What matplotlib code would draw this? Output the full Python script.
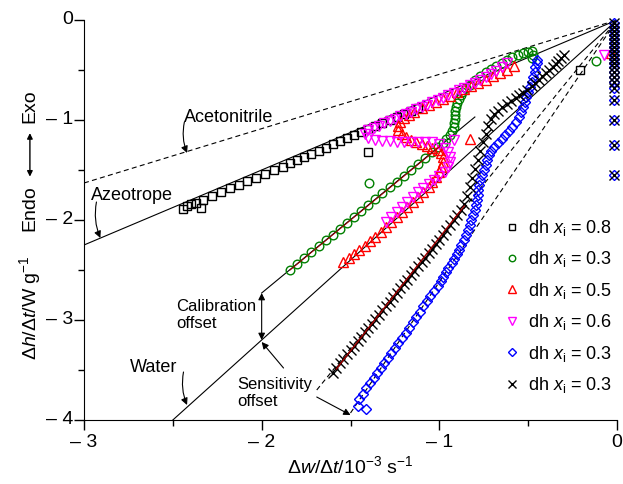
import matplotlib.pyplot as plt
import matplotlib.transforms as mtransforms

plt.rcParams['font.family'] = ['Liberation Sans', 'DejaVu Sans']
plt.rcParams['mathtext.fontset'] = 'custom'
plt.rcParams['mathtext.rm'] = 'Liberation Sans'
plt.rcParams['mathtext.it'] = 'Liberation Sans:italic'

# ---- data (dw/dt in 1e-3 s^-1, dh/dt in W/g) ----
sq_w = [-2.44, -2.42, -2.40, -2.37, -2.34, -2.33, -2.28, -2.23, -2.18, -2.13, -2.08, -2.03,
        -1.98, -1.93, -1.88, -1.84, -1.80, -1.76, -1.72, -1.68, -1.64, -1.60, -1.56, -1.52,
        -1.48, -1.44, -1.40, -1.36, -1.32, -1.28, -1.24, -1.20, -1.16, -1.12, -1.40, -0.21]
sq_h = [-1.89, -1.86, -1.84, -1.83, -1.88, -1.80, -1.76, -1.72, -1.68, -1.65, -1.61, -1.58,
        -1.54, -1.50, -1.47, -1.43, -1.40, -1.37, -1.34, -1.31, -1.28, -1.24, -1.21, -1.18,
        -1.15, -1.12, -1.09, -1.06, -1.03, -1.00, -0.97, -0.94, -0.91, -0.88, -1.32, -0.50]

ci_w = [-1.84, -1.80, -1.76, -1.72, -1.68, -1.64, -1.60, -1.56, -1.52, -1.48, -1.44, -1.40,
        -1.36, -1.32, -1.28, -1.24, -1.20, -1.16, -1.12, -1.08, -1.04, -1.01, -0.98, -0.96,
        -0.94, -0.93, -0.92, -0.915, -0.91, -0.91, -0.91, -0.905, -0.90, -0.89, -0.88, -0.87,
        -0.85, -0.83, -0.80, -0.77, -0.74, -0.71, -0.68, -0.65, -0.62, -0.59, -0.56, -0.53,
        -0.50, -0.48, -0.47, -0.48, -1.395, -0.12]
ci_h = [-2.50, -2.44, -2.38, -2.32, -2.26, -2.20, -2.15, -2.09, -2.03, -1.97, -1.91, -1.85,
        -1.79, -1.73, -1.67, -1.62, -1.56, -1.50, -1.44, -1.38, -1.32, -1.27, -1.23, -1.19,
        -1.15, -1.11, -1.07, -1.03, -0.99, -0.95, -0.91, -0.87, -0.83, -0.79, -0.75, -0.72,
        -0.68, -0.65, -0.60, -0.56, -0.52, -0.49, -0.46, -0.43, -0.40, -0.37, -0.35, -0.33,
        -0.32, -0.31, -0.35, -0.38, -1.63, -0.41]

tu_w = [-1.54, -1.51, -1.48, -1.45, -1.42, -1.39, -1.36, -1.33, -1.30, -1.27, -1.24, -1.21,
        -1.18, -1.15, -1.12, -1.09, -1.06, -1.04, -1.02, -1.00, -0.99, -0.98, -0.98, -0.99,
        -1.01, -1.04, -1.07, -1.10, -1.13, -1.16, -1.19, -1.21, -1.23, -1.23, -1.22, -1.20,
        -1.17, -1.14, -1.10, -1.06, -1.02, -0.98, -0.94, -0.90, -0.86, -0.82, -0.78, -0.74,
        -0.70, -0.66, -0.62, -0.58, -0.83, -0.035]
tu_h = [-2.42, -2.38, -2.34, -2.30, -2.26, -2.21, -2.17, -2.12, -2.07, -2.02, -1.97, -1.92,
        -1.87, -1.82, -1.77, -1.72, -1.67, -1.62, -1.57, -1.52, -1.47, -1.42, -1.37, -1.33,
        -1.30, -1.28, -1.26, -1.24, -1.22, -1.20, -1.17, -1.14, -1.10, -1.06, -1.02, -0.98,
        -0.95, -0.92, -0.88, -0.85, -0.82, -0.79, -0.76, -0.72, -0.69, -0.66, -0.63, -0.60,
        -0.56, -0.53, -0.50, -0.46, -1.19, -0.33]

td_w = [-1.30, -1.27, -1.24, -1.21, -1.18, -1.15, -1.12, -1.09, -1.06, -1.03, -1.00, -0.97,
        -0.95, -0.94, -0.94, -0.95, -0.97, -1.00, -1.04, -1.08, -1.12, -1.16, -1.20, -1.24,
        -1.28, -1.32, -1.36, -1.40, -1.42, -1.40, -1.37, -1.34, -1.31, -1.28, -1.25, -1.22,
        -1.19, -1.16, -1.13, -1.10, -1.07, -1.04, -1.01, -0.98, -0.95, -0.92, -0.89, -0.86,
        -0.83, -0.80, -0.77, -0.74, -0.71, -0.68, -0.65, -0.62, -0.92, -0.075]
td_h = [-2.02, -1.97, -1.92, -1.87, -1.82, -1.77, -1.72, -1.68, -1.64, -1.60, -1.56, -1.52,
        -1.47, -1.42, -1.37, -1.32, -1.28, -1.24, -1.22, -1.22, -1.22, -1.22, -1.22, -1.22,
        -1.21, -1.21, -1.20, -1.18, -1.14, -1.10, -1.08, -1.06, -1.03, -1.01, -0.99, -0.96,
        -0.94, -0.92, -0.89, -0.87, -0.85, -0.82, -0.80, -0.78, -0.75, -0.73, -0.70, -0.68,
        -0.65, -0.63, -0.60, -0.57, -0.54, -0.51, -0.47, -0.43, -1.20, -0.35]

zero_h = [-0.03, -0.07, -0.11, -0.15, -0.19, -0.23, -0.27, -0.31, -0.35, -0.39, -0.43,
          -0.47, -0.52, -0.57, -0.62, -0.68, -0.80, -1.00, -1.25, -1.55]

di_w = [-1.46, -1.41, -1.45, -1.43, -1.41, -1.39, -1.37, -1.35, -1.33, -1.31, -1.29, -1.27,
        -1.25, -1.23, -1.21, -1.19, -1.17, -1.15, -1.13, -1.11, -1.09, -1.07, -1.05, -1.03,
        -1.01, -0.99, -0.98, -0.96, -0.95, -0.93, -0.92, -0.90, -0.89, -0.88, -0.86, -0.85,
        -0.84, -0.83, -0.82, -0.81, -0.80, -0.795, -0.79, -0.785, -0.78, -0.775, -0.77, -0.76,
        -0.75, -0.74, -0.73, -0.72, -0.71, -0.69, -0.67, -0.65, -0.63, -0.61, -0.59, -0.57,
        -0.55, -0.54, -0.53, -0.52, -0.51, -0.50, -0.49, -0.48, -0.47, -0.46, -0.46, -0.45,
        -0.45] + [-0.015] * len(zero_h)
di_h = [-3.86, -3.89, -3.79, -3.74, -3.68, -3.63, -3.58, -3.53, -3.48, -3.43, -3.38, -3.33,
        -3.28, -3.23, -3.18, -3.13, -3.08, -3.02, -2.97, -2.92, -2.86, -2.81, -2.76, -2.71,
        -2.66, -2.61, -2.57, -2.52, -2.48, -2.43, -2.39, -2.34, -2.30, -2.25, -2.20, -2.15,
        -2.10, -2.05, -2.00, -1.95, -1.90, -1.85, -1.80, -1.75, -1.70, -1.65, -1.60, -1.55,
        -1.50, -1.45, -1.40, -1.35, -1.31, -1.27, -1.23, -1.19, -1.15, -1.11, -1.07, -1.02,
        -0.97, -0.92, -0.87, -0.82, -0.77, -0.72, -0.67, -0.62, -0.57, -0.52, -0.47, -0.43,
        -0.40] + zero_h

cr_w = [-1.60, -1.58, -1.56, -1.54, -1.52, -1.50, -1.48, -1.46, -1.44, -1.42, -1.40, -1.38,
        -1.36, -1.34, -1.32, -1.30, -1.28, -1.26, -1.24, -1.22, -1.20, -1.18, -1.16, -1.14,
        -1.12, -1.10, -1.08, -1.06, -1.04, -1.02, -1.00, -0.98, -0.96, -0.94, -0.92, -0.90,
        -0.88, -0.86, -0.845, -0.83, -0.815, -0.80, -0.785, -0.77, -0.755, -0.74, -0.725,
        -0.71, -0.69, -0.67, -0.645, -0.62, -0.595, -0.57, -0.55, -0.53, -0.505, -0.48, -0.46,
        -0.44, -0.42, -0.40, -0.38, -0.36, -0.345, -0.33, -0.315, -0.30] + [-0.015] * len(zero_h)
cr_h = [-3.53, -3.48, -3.43, -3.39, -3.34, -3.30, -3.26, -3.21, -3.17, -3.12, -3.08, -3.04,
        -2.99, -2.95, -2.90, -2.86, -2.82, -2.77, -2.73, -2.68, -2.64, -2.60, -2.55, -2.51,
        -2.46, -2.42, -2.38, -2.33, -2.29, -2.24, -2.20, -2.15, -2.10, -2.05, -2.00, -1.95,
        -1.90, -1.84, -1.76, -1.67, -1.58, -1.49, -1.40, -1.31, -1.22, -1.14, -1.06, -0.99,
        -0.94, -0.91, -0.87, -0.84, -0.81, -0.78, -0.75, -0.73, -0.70, -0.66, -0.63, -0.60,
        -0.56, -0.53, -0.50, -0.47, -0.44, -0.41, -0.38, -0.35] + zero_h

legend_labels = ['0.8', '0.3', '0.5', '0.6', '0.3', '0.3']
xticks = [-3, -2, -1, 0]
yticks = [-4, -3, -2, -1, 0]

# reference lines through the origin and fits
acet_w, acet_h = [-3.0, 0.0], [-1.63, 0.0]
azeo_w, azeo_h = [-3.0, 0.0], [-2.25, 0.0]
water_w, water_h = [-2.5, 0.0], [-4.0, 0.0]
calib_w, calib_h = [-2.0, -0.80], [-2.73, -0.97]
sens1_w, sens1_h = [-1.69, 0.0], [-3.70, 0.0]
sens2_w, sens2_h = [-1.50, 0.0], [-3.93, 0.0]
fit_w, fit_h = [-1.58, -0.86], [-3.49, -1.86]
gfit_w, gfit_h = [-1.84, -1.00], [-2.50, -1.27]

fig = plt.figure(figsize=(6.23, 4.84), dpi=100)
ax = fig.add_axes([84 / 623, 64 / 484, 533 / 623, 400 / 484])

lw = 0.8
dash = (0, (4.5, 3))
ax.plot(acet_w, acet_h, color='k', lw=lw, ls=dash)
ax.plot(sens1_w, sens1_h, color='k', lw=lw, ls=dash)
ax.plot(sens2_w, sens2_h, color='k', lw=lw, ls=dash)
ax.plot(azeo_w, azeo_h, color='k', lw=lw)
ax.plot(water_w, water_h, color='k', lw=lw)
ax.plot(calib_w, calib_h, color='k', lw=lw)

mk = dict(ls='none', mfc='none', mew=1.0, clip_on=False)
h1, = ax.plot(sq_w, sq_h, marker='s', ms=5.2, color='k', **mk)
h2, = ax.plot(ci_w, ci_h, marker='o', ms=6.2, color='#008000', **mk)
h3, = ax.plot(tu_w, tu_h, marker='^', ms=7, color='#ff0000', **mk)
h4, = ax.plot(td_w, td_h, marker='v', ms=7, color='#ff00ff', **mk)
h5, = ax.plot(di_w, di_h, marker='D', ms=5.5, color='#0000ff', **mk)
h6, = ax.plot(cr_w, cr_h, marker='x', ms=7.5, color='k', **mk)
ax.plot(fit_w, fit_h, color='#a00000', lw=1.0)
ax.plot(gfit_w, gfit_h, color='#a00000', lw=0.7)

ax.set_xlim(-3, 0)
ax.set_ylim(-4, 0)
ax.set_xticks(xticks)
ax.set_xticks([-2.5, -1.5, -0.5], minor=True)
ax.set_yticks(yticks)
ax.set_yticks([-3.5, -2.5, -1.5, -0.5], minor=True)
ax.tick_params(which='major', length=7, width=1, direction='out',
               labelbottom=False, labelleft=False)
ax.tick_params(which='minor', length=4, width=1, direction='out')
ax.spines['top'].set_visible(False)
ax.spines['right'].set_visible(False)

# tick labels written as plain texts ("- 3" style with a gap after the sign)
xoff = mtransforms.offset_copy(ax.get_xaxis_transform(), fig=fig, x=0, y=-10.4, units='points')
for v in xticks:
    s = '0' if v == 0 else '\u2013 %d' % abs(v)
    ax.text(v, 0, s, transform=xoff, ha='center', va='top', fontsize=14)
yoff = mtransforms.offset_copy(ax.get_yaxis_transform(), fig=fig, x=-8, y=0, units='points')
for v in yticks:
    s = '0' if v == 0 else '\u2013 %d' % abs(v)
    ax.text(0, v, s, transform=yoff, ha='right', va='center', fontsize=14)

fig.text(350 / 623, 1 - 466 / 484, r'$\Delta w/\Delta t$/10$^{-3}$ s$^{-1}$', fontsize=14,
         ha='center', va='center')
fig.text(0.048, 0.365, r'$\Delta h/\Delta t$/W g$^{-1}$', rotation=90, fontsize=14,
         ha='center', va='center')
fig.text(0.048, 0.57, 'Endo', rotation=90, fontsize=14, ha='center', va='center')
fig.text(0.048, 0.78, 'Exo', rotation=90, fontsize=14, ha='center', va='center')
ax.annotate('', xy=(0.048, 0.725), xytext=(0.048, 0.635), xycoords='figure fraction',
            arrowprops=dict(arrowstyle='<|-|>', color='k', lw=1, mutation_scale=8,
                            shrinkA=0, shrinkB=0))

arr = dict(arrowstyle='-|>', color='k', lw=0.8, mutation_scale=10, shrinkA=0, shrinkB=0)
ax.text(-2.44, -0.97, 'Acetonitrile', fontsize=13, va='center')
ax.annotate('', xy=(-2.42, -1.33), xytext=(-2.435, -1.02),
            arrowprops=dict(connectionstyle='arc3,rad=0.15', **arr))
ax.text(-2.96, -1.75, 'Azeotrope', fontsize=13, va='center')
ax.annotate('', xy=(-2.908, -2.18), xytext=(-2.93, -1.82),
            arrowprops=dict(connectionstyle='arc3,rad=0.15', **arr))
ax.text(-2.74, -3.47, 'Water', fontsize=13, va='center')
ax.annotate('', xy=(-2.42, -3.85), xytext=(-2.44, -3.52),
            arrowprops=dict(connectionstyle='arc3,rad=0.15', **arr))
ax.text(-2.48, -2.95, 'Calibration\noffset', fontsize=12, va='center', linespacing=1.2)
ax.annotate('', xy=(-2.0, -2.73), xytext=(-2.0, -3.2),
            arrowprops=dict(arrowstyle='<|-|>', color='k', lw=0.8, mutation_scale=10,
                            shrinkA=0, shrinkB=0))
ax.text(-2.14, -3.73, 'Sensitivity\noffset', fontsize=12, va='center', linespacing=1.2)
ax.annotate('', xy=(-2.0, -3.22), xytext=(-1.877, -3.48), arrowprops=arr)
ax.annotate('', xy=(-1.5, -3.95), xytext=(-1.69, -3.77), arrowprops=arr)

labels = [r'dh $x_\mathregular{i}$ = ' + v for v in legend_labels]
leg = ax.legend([h1, h2, h3, h4, h5, h6], labels, loc='upper left',
                bbox_to_anchor=(0.79, 0.505), frameon=False, fontsize=13,
                handlelength=0.8, handletextpad=0.45, labelspacing=0.63,
                borderpad=0, borderaxespad=0, markerscale=0.75)

fig.savefig('out.png', dpi=100)
